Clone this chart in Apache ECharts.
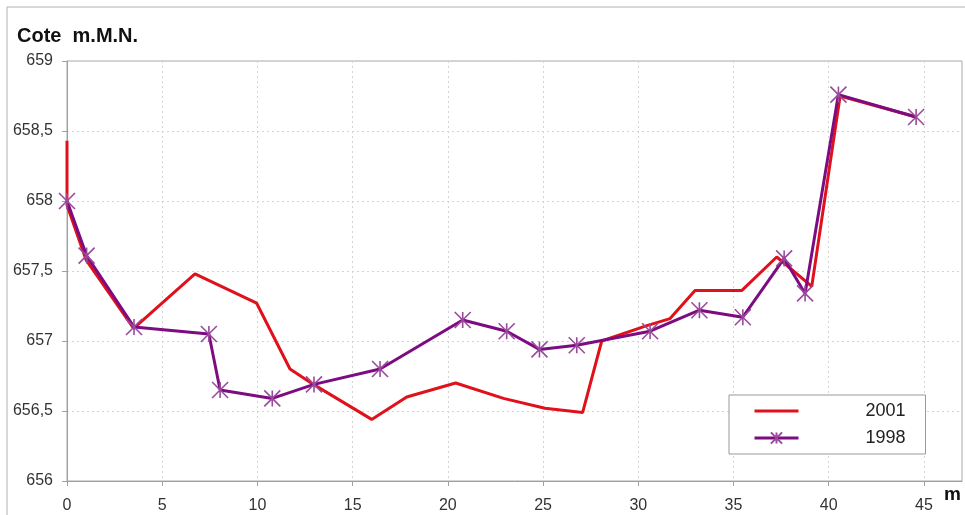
<!DOCTYPE html>
<html>
<head>
<meta charset="utf-8">
<script src="https://cdn.jsdelivr.net/npm/echarts@6/dist/echarts.min.js"></script>
<style>html,body{margin:0;padding:0;background:#fff;}#c{width:965px;height:515px;}</style>
</head>
<body>
<div id="c"></div>
<script>
// Data
const seriesNames = ['2001', '1998'];
const x2001 = [0, 0, 1.0, 3.5, 6.72, 9.96, 11.71, 12.94, 16.0, 17.84, 20.41, 22.92, 25.1, 27.08, 28.08, 30.45, 31.67, 32.98, 35.43, 37.27, 39.11, 40.6, 44.59];
const y2001 = [658.43, 657.97, 657.58, 657.09, 657.48, 657.27, 656.80, 656.69, 656.44, 656.60, 656.70, 656.59, 656.52, 656.49, 657.0, 657.11, 657.16, 657.36, 657.36, 657.60, 657.39, 658.75, 658.60];
const x1998 = [0, 1.03, 3.52, 7.45, 8.04, 10.78, 12.97, 16.44, 20.78, 23.09, 24.81, 26.77, 30.62, 33.21, 35.49, 37.66, 38.76, 40.51, 44.59];
const y1998 = [658.0, 657.61, 657.10, 657.05, 656.65, 656.59, 656.69, 656.80, 657.15, 657.07, 656.94, 656.97, 657.07, 657.22, 657.17, 657.59, 657.34, 658.76, 658.60];
const xTicks = [0, 5, 10, 15, 20, 25, 30, 35, 40, 45];
const yTicks = [656, 656.5, 657, 657.5, 658, 658.5, 659];
const yTitle = 'Cote  m.M.N.';
const xTitle = 'm';

const zip = (a, b) => a.map((v, i) => [v, b[i]]);
const chart = echarts.init(document.getElementById('c'), null, {renderer: 'canvas'});
const font = 'Liberation Sans, Arial, sans-serif';
const star = 'path://M0,0L10,10M10,0L0,10M5,0L5,10';

chart.setOption({
  animation: false,
  backgroundColor: '#fff',
  textStyle: {fontFamily: font},
  graphic: [
    {type: 'rect', shape: {x: 7, y: 7, width: 980, height: 530}, style: {fill: 'none', stroke: '#b0b0b0', lineWidth: 1}, silent: true, z: -1},
    {type: 'text', left: 17, top: 26, style: {text: yTitle, font: 'bold 20px ' + font, fill: '#111'}},
    {type: 'text', left: 944, top: 485, style: {text: xTitle, font: 'bold 19px ' + font, fill: '#111'}}
  ],
  grid: {left: 67, right: 3, top: 61, bottom: 34, show: true, borderColor: '#a8a8a8', borderWidth: 1},
  legend: {
    data: [{name: seriesNames[0], itemStyle: {opacity: 0}}, {name: seriesNames[1]}],
    orient: 'vertical',
    left: 729, top: 395,
    padding: [7, 20, 7, 24],
    itemGap: 9,
    itemWidth: 44, itemHeight: 14,
    lineStyle: {width: 3},
    borderColor: '#999', borderWidth: 1, backgroundColor: '#fff',
    formatter: '{t|{name}}',
    textStyle: {rich: {t: {width: 102, align: 'right', fontSize: 18, lineHeight: 20, color: '#222', fontFamily: font}}}
  },
  xAxis: {
    type: 'value', min: 0, max: 47, interval: 5,
    axisLine: {show: true, lineStyle: {color: '#a0a0a0', width: 1}},
    axisTick: {show: true, length: 5, lineStyle: {color: '#a0a0a0'}, customValues: xTicks},
    axisLabel: {customValues: xTicks, fontSize: 16, color: '#333', margin: 17, fontFamily: font},
    splitLine: {show: true, lineStyle: {color: '#d4d4d4', type: [2, 3], width: 1}}
  },
  yAxis: {
    type: 'value', min: 656, max: 659, interval: 0.5,
    axisLine: {show: true, lineStyle: {color: '#a0a0a0', width: 1}},
    axisTick: {show: true, length: 5, lineStyle: {color: '#a0a0a0'}, customValues: yTicks},
    axisLabel: {customValues: yTicks, fontSize: 16, color: '#333', margin: 14, fontFamily: font,
      formatter: v => String(v).replace('.', ',')},
    splitLine: {show: true, lineStyle: {color: '#d4d4d4', type: [2, 3], width: 1}}
  },
  series: [
    {
      name: seriesNames[0], type: 'line', data: zip(x2001, y2001),
      symbol: 'none', lineStyle: {color: '#e0111b', width: 3}, itemStyle: {color: '#e0111b'}, z: 2
    },
    {
      name: seriesNames[1], type: 'line', data: zip(x1998, y1998),
      symbol: star, symbolSize: 16, showAllSymbol: true,
      lineStyle: {color: '#7c0c80', width: 3},
      itemStyle: {color: '#9a4a9c', borderColor: '#9a4a9c', borderWidth: 1.6}, z: 3
    }
  ]
});
</script>
</body>
</html>
